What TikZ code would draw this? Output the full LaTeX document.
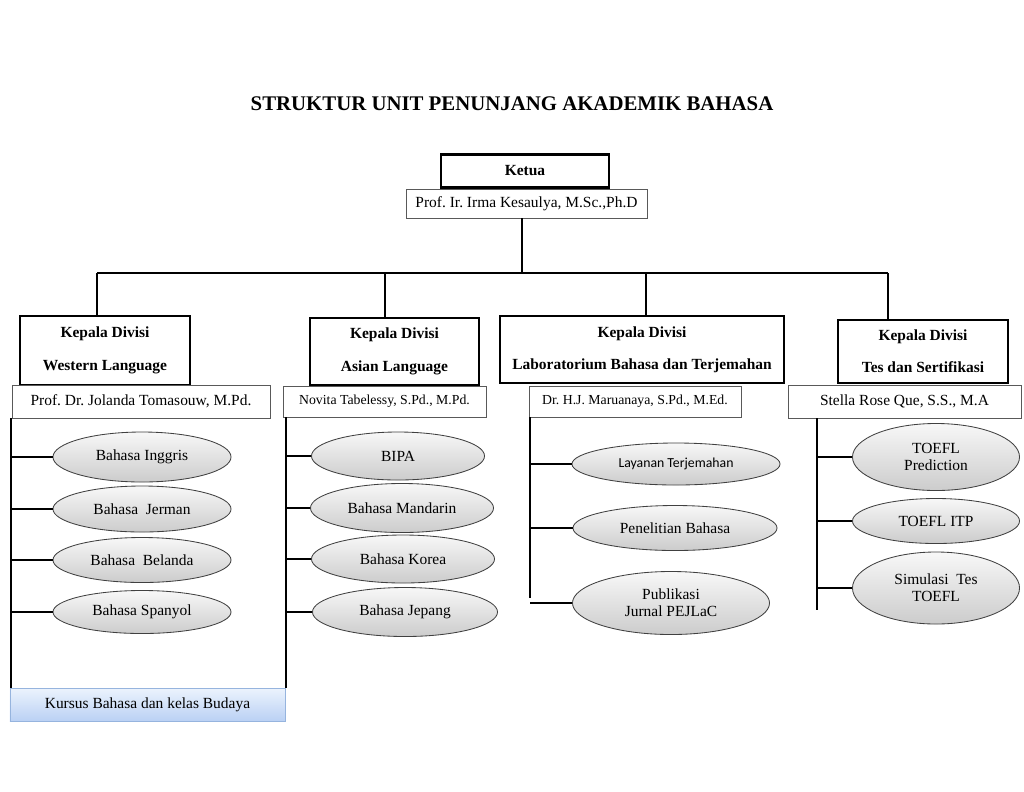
\documentclass[tikz,border=0pt]{standalone}
\usepackage{fontspec}
\setmainfont{Liberation Serif}
\newfontfamily\calibri{Carlito}
\usetikzlibrary{shapes.geometric,positioning}
\frenchspacing

\definecolor{kursusAtas}{RGB}{236,243,253}
\definecolor{kursusBawah}{RGB}{186,209,244}
\definecolor{kursusGaris}{RGB}{150,180,222}

\tikzset{
  kepala/.style={draw, line width=2pt, font=\fontsize{11}{12}\selectfont\bfseries, align=center, inner sep=0pt},
  nama/.style={draw=black!65, line width=0.6pt, fill=white, font=\fontsize{11}{12}\selectfont, inner sep=0pt},
  unit/.style={ellipse, draw=black!75, line width=0.6pt, top color=gray!6, bottom color=gray!40, font=\fontsize{11}{12}\selectfont, align=center, inner sep=0pt},
  garis/.style={line width=2pt},
}

\begin{document}
\begin{tikzpicture}[x=0.025cm, y=-0.025cm]
\useasboundingbox (0,0) rectangle (1024,791);
% title
\node[font=\fontsize{14.8}{16}\selectfont\bfseries] (judul) at (512,104) {STRUKTUR UNIT PENUNJANG AKADEMIK BAHASA};
% ketua
\node[kepala, minimum width=4.2cm, minimum height=0.825cm] (ketua) at (525,171) {Ketua};
\node[nama, minimum width=6.025cm, minimum height=0.725cm] (namaKetua) at (526.5,203.5) {Prof. Ir. Irma Kesaulya, M.Sc.,Ph.D};
% bus to the four divisions
\coordinate (b1) at (97,273);
\coordinate (b2) at (385,273);
\coordinate (b3) at (646,273);
\coordinate (b4) at (888,273);
\coordinate (b0) at (522,273);
\draw[garis] (b0 |- namaKetua.south) -- (b0);
\draw[garis] (b1) -- (b4);
% divisions
\node[kepala, minimum width=4.25cm, minimum height=1.725cm] (divW) at (105,350.5) {Kepala Divisi\\[11pt]Western Language};
\node[nama, minimum width=6.45cm, minimum height=0.825cm] (namaW) at (141,401.5) {Prof. Dr. Jolanda Tomasouw, M.Pd.};
\node[kepala, minimum width=4.225cm, minimum height=1.675cm] (divA) at (394.5,351.5) {Kepala Divisi\\[11pt]Asian Language};
\node[nama, minimum width=5.075cm, minimum height=0.775cm, font=\fontsize{9.8}{11}\selectfont] (namaA) at (384.5,401.5) {Novita Tabelessy, S.Pd., M.Pd.};
\node[kepala, minimum width=7.1cm, minimum height=1.675cm] (divL) at (642,349.5) {Kepala Divisi\\[11pt]Laboratorium Bahasa dan Terjemahan};
\node[nama, minimum width=5.3cm, minimum height=0.775cm, font=\fontsize{9.8}{11}\selectfont] (namaL) at (635,401.5) {Dr. H.J. Maruanaya, S.Pd., M.Ed.};
\node[kepala, minimum width=4.25cm, minimum height=1.575cm] (divT) at (923,351.5) {Kepala Divisi\\[11pt]Tes dan Sertifikasi};
\node[nama, minimum width=5.825cm, minimum height=0.825cm] (namaT) at (904.5,401.5) {Stella Rose Que, S.S., M.A};
\draw[garis] (b1) -- (b1 |- divW.north);
\draw[garis] (b2) -- (b2 |- divA.north);
\draw[garis] (b3) -- (b3 |- divL.north);
\draw[garis] (b4) -- (b4 |- divT.north);
% western language
\node[unit, minimum width=4.45cm, minimum height=1.25cm] (inggris) at (142,457) {Bahasa Inggris};
\node[unit, minimum width=4.45cm, minimum height=1.15cm] (jerman) at (142,509) {Bahasa\ \ Jerman};
\node[unit, minimum width=4.45cm, minimum height=1.125cm] (belanda) at (142,560) {Bahasa\ \ Belanda};
\node[unit, minimum width=4.45cm, minimum height=1.075cm] (spanyol) at (142,612) {Bahasa Spanyol};
% asian language
\node[unit, minimum width=4.325cm, minimum height=1.2cm] (bipa) at (398,456) {BIPA};
\node[unit, minimum width=4.575cm, minimum height=1.225cm] (mandarin) at (402,508) {Bahasa Mandarin};
\node[unit, minimum width=4.575cm, minimum height=1.2cm] (korea) at (403,559) {Bahasa Korea};
\node[unit, minimum width=4.625cm, minimum height=1.225cm] (jepang) at (405,612) {Bahasa Jepang};
% laboratorium
\node[unit, minimum width=5.2cm, minimum height=1.05cm, font=\calibri\fontsize{9.8}{11}\selectfont] (layanan) at (676,464) {Layanan Terjemahan};
\node[unit, minimum width=5.1cm, minimum height=1.125cm] (penelitian) at (675,528) {Penelitian Bahasa};
\node[unit, minimum width=4.925cm, minimum height=1.575cm] (publikasi) at (671,603) {Publikasi\\Jurnal PEJLaC};
% tes dan sertifikasi
\node[unit, minimum width=4.175cm, minimum height=1.675cm] (prediction) at (936,457) {TOEFL\\Prediction};
\node[unit, minimum width=4.175cm, minimum height=1.125cm] (itp) at (936,521) {TOEFL ITP};
\node[unit, minimum width=4.175cm, minimum height=1.8cm] (simulasi) at (936,588) {Simulasi\ \ Tes\\TOEFL};
% kursus
\node[draw=kursusGaris, line width=0.6pt, top color=kursusAtas, bottom color=kursusBawah, minimum width=6.875cm, minimum height=0.825cm, font=\fontsize{11}{12}\selectfont] (kursus) at (147.5,704.5) {Kursus Bahasa dan kelas Budaya};
% spines
\coordinate (s1) at (11,688);
\coordinate (s2) at (286,688);
\coordinate (s3) at (530,598);
\coordinate (s4) at (817,610);
\draw[garis] (s1 |- namaW.south) -- (s1);
\draw[garis] (s2 |- namaA.south) -- (s2);
\draw[garis] (s3 |- namaL.south) -- (s3);
\draw[garis] (s4 |- namaT.south) -- (s4);
% branches
\draw[garis] (inggris.west -| s1) -- (inggris.west);
\draw[garis] (jerman.west -| s1) -- (jerman.west);
\draw[garis] (belanda.west -| s1) -- (belanda.west);
\draw[garis] (spanyol.west -| s1) -- (spanyol.west);
\draw[garis] (bipa.west -| s2) -- (bipa.west);
\draw[garis] (mandarin.west -| s2) -- (mandarin.west);
\draw[garis] (korea.west -| s2) -- (korea.west);
\draw[garis] (jepang.west -| s2) -- (jepang.west);
\draw[garis] (layanan.west -| s3) -- (layanan.west);
\draw[garis] (penelitian.west -| s3) -- (penelitian.west);
\draw[garis] (publikasi.west -| s3) -- (publikasi.west);
\draw[garis] (prediction.west -| s4) -- (prediction.west);
\draw[garis] (itp.west -| s4) -- (itp.west);
\draw[garis] (simulasi.west -| s4) -- (simulasi.west);
\end{tikzpicture}
\end{document}
